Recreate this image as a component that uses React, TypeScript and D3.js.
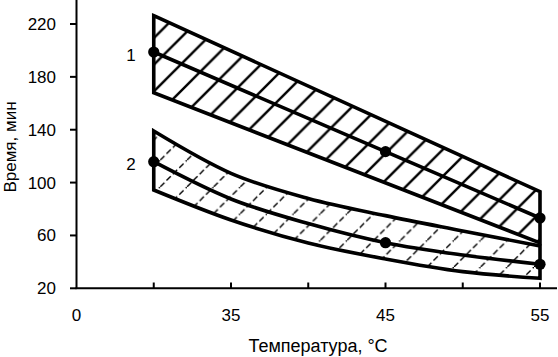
import React from "react";
import * as d3 from "d3";

// X axis: tick positions (°C) and their printed labels
const xTickValues = [25, 30, 35, 40, 45, 50, 55];
const xTickLabels = ["0", "", "35", "", "45", "", "55"];
const yTickValues = [20, 60, 100, 140, 180, 220];

// Band 1 (straight band)
const temps1 = [30, 55];
const upper1 = [226.3, 93.1];
const lower1 = [168, 54.3];
const centerTemps1 = [30, 45, 55];
const center1 = [198.8, 123.4, 73.2];

// Band 2 (curved band)
const temps2 = [30, 35, 40, 45, 50, 55];
const upper2 = [139, 107, 88, 75, 63.4, 52];
const center2 = [115.8, 87.6, 69, 54.5, 45.2, 38.2];
const lower2 = [94.4, 71.7, 54.3, 42.2, 32.6, 27.6];
const markerTemps2 = [30, 45, 55];

const W = 558;
const H = 357;
const FONT = "'Liberation Sans', Arial, sans-serif";

export default function App() {
  const x = d3.scaleLinear().domain([25, 55]).range([76.5, 540]);
  const y = d3.scaleLinear().domain([20, 240]).range([288.3, 288.3 - 220 * 1.3215]);

  const band1 = temps1.map((t, i) => ({ t, u: upper1[i], l: lower1[i] }));
  const band2 = temps2.map((t, i) => ({ t, u: upper2[i], l: lower2[i], c: center2[i] }));

  const area1 = d3
    .area<any>()
    .x((d) => x(d.t))
    .y0((d) => y(d.l))
    .y1((d) => y(d.u));
  const area2 = d3
    .area<any>()
    .x((d) => x(d.t))
    .y0((d) => y(d.l))
    .y1((d) => y(d.u))
    .curve(d3.curveMonotoneX);

  const c1 = centerTemps1.map((t, i) => [x(t), y(center1[i])] as [number, number]);
  const line1 = d3.line()(c1);
  const line2 = d3
    .line<any>()
    .x((d) => x(d.t))
    .y((d) => y(d.c))
    .curve(d3.curveMonotoneX)(band2);

  const markers2 = markerTemps2.map((t) => {
    const i = temps2.indexOf(t);
    return [x(t), y(center2[i])];
  });

  const hw = 26.7;

  return (
    <svg
      width={W}
      height={H}
      style={{ position: "absolute", left: 0, top: 0, background: "#fff" }}
      fontFamily={FONT}
    >
      <defs>
        <pattern id="hatch1" patternUnits="userSpaceOnUse" width={hw} height={hw} x={5} y={0}>
          <line x1={0} y1={hw} x2={hw} y2={0} stroke="#000" strokeWidth={2.4} />
          <line x1={-2} y1={2} x2={2} y2={-2} stroke="#000" strokeWidth={2.4} />
          <line x1={hw - 2} y1={hw + 2} x2={hw + 2} y2={hw - 2} stroke="#000" strokeWidth={2.4} />
        </pattern>
        <pattern id="hatch2" patternUnits="userSpaceOnUse" width={hw} height={hw} x={0} y={0}>
          <line x1={0} y1={hw} x2={hw} y2={0} stroke="#000" strokeWidth={1.4} strokeDasharray="6,3" />
        </pattern>
      </defs>

      {/* bands */}
      <path d={area1(band1) || ""} fill="url(#hatch1)" stroke="#000" strokeWidth={3.6} strokeLinejoin="miter" />
      <path d={area2(band2) || ""} fill="url(#hatch2)" stroke="#000" strokeWidth={3.6} strokeLinejoin="miter" />
      <path d={line1 || ""} fill="none" stroke="#000" strokeWidth={3.6} />
      <path d={line2 || ""} fill="none" stroke="#000" strokeWidth={3.6} />

      {c1.map(([cx, cy], i) => (
        <circle key={"m1" + i} cx={cx} cy={cy} r={5.6} fill="#000" />
      ))}
      {markers2.map(([cx, cy], i) => (
        <circle key={"m2" + i} cx={cx} cy={cy} r={5.6} fill="#000" />
      ))}

      {/* axes */}
      <line x1={76.5} y1={0} x2={76.5} y2={289} stroke="#000" strokeWidth={2} />
      <line x1={75.5} y1={288.3} x2={557} y2={288.3} stroke="#000" strokeWidth={2} />
      {yTickValues.map((v) => (
        <g key={"y" + v}>
          <line x1={70} y1={y(v)} x2={76.5} y2={y(v)} stroke="#000" strokeWidth={2} />
          <text x={56} y={y(v) + 6} textAnchor="end" fontSize={17} fill="#000">
            {v}
          </text>
        </g>
      ))}
      {xTickValues.map((v, i) => (
        <g key={"x" + v}>
          {i > 0 && <line x1={x(v)} y1={288.3} x2={x(v)} y2={282.5} stroke="#000" strokeWidth={2} />}
          <text x={x(v)} y={321} textAnchor="middle" fontSize={17} fill="#000">
            {xTickLabels[i]}
          </text>
        </g>
      ))}

      {/* series labels */}
      <text x={131} y={61} textAnchor="middle" fontSize={17} fill="#000">1</text>
      <text x={131} y={170} textAnchor="middle" fontSize={17} fill="#000">2</text>

      {/* axis titles */}
      <text x={318} y={352} textAnchor="middle" fontSize={18} fill="#000">
        Температура, °C
      </text>
      <text transform="translate(16,147) rotate(-90)" textAnchor="middle" fontSize={17} fill="#000">
        Время, мин
      </text>
    </svg>
  );
}
